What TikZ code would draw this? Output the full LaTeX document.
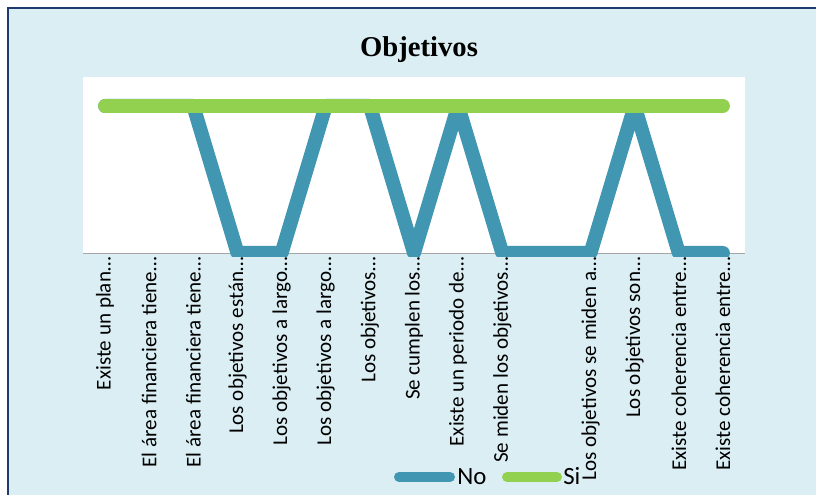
\documentclass[tikz,border=0pt]{standalone}
\usepackage{fontspec}
\setmainfont{Carlito}
\newfontfamily\titlefont{Liberation Serif}
\usepackage{xcolor}
\usepackage{tikz}

\definecolor{panelblue}{HTML}{DAEEF3}
\definecolor{framenavy}{HTML}{1F3A6E}
\definecolor{noblue}{HTML}{4197B1}
\definecolor{sigreen}{HTML}{92D050}
\definecolor{axisgray}{HTML}{A6A6A6}

\tikzset{
    catlabel/.style={rotate=90, anchor=east, inner sep=0pt, font=\fontsize{15.8}{17}\selectfont},
    series/.style={line width=10.5pt, line cap=round, line join=round},
    legline/.style={line width=7.5pt, line cap=round},
    legtext/.style={anchor=base west, inner sep=0pt, font=\fontsize{18.6}{20}\selectfont}
}

\begin{document}
\begin{tikzpicture}[x=0.75pt,y=0.75pt]
        \useasboundingbox (0,0) rectangle (816,495);
        \clip (0,0) rectangle (816,495);

        % Drawing the panel
        \fill[panelblue] (8,-20) rectangle (840,487);
        \draw[framenavy, line width=1.6pt] (8,-20) -- (8,487) -- (840,487);

        % Drawing the plot area
        \fill[white] (83,242) rectangle (745,418);
        \draw[axisgray, line width=1.2pt] (83,241.5) -- (745,241.5);

        % Title
        \node[font=\titlefont\bfseries\fontsize{21.5}{24}\selectfont, anchor=base] (title) at (419,438) {Objetivos};

        % Drawing the series
        \begin{scope}
            \clip (83,238) rectangle (745,418);
            \draw[series, noblue] (105.1,389) -- (149.2,389) -- (193.3,389) -- (237.5,242)
                -- (281.6,242) -- (325.7,389) -- (369.9,389) -- (414.0,242) -- (458.1,389)
                -- (502.3,242) -- (546.4,242) -- (590.5,242) -- (634.6,389) -- (678.8,242)
                -- (722.9,242);
            \draw[series, sigreen] (105.1,389) -- (722.9,389);
        \end{scope}

        % Category labels
        \node[catlabel] (c1) at (105.1,238) {Existe un plan…};
        \node[catlabel] (c2) at (149.2,238) {El área financiera tiene…};
        \node[catlabel] (c3) at (193.3,238) {El área financiera tiene…};
        \node[catlabel] (c4) at (237.5,238) {Los objetivos están…};
        \node[catlabel] (c5) at (281.6,238) {Los objetivos a largo…};
        \node[catlabel] (c6) at (325.7,238) {Los objetivos a largo…};
        \node[catlabel] (c7) at (369.9,238) {Los objetivos…};
        \node[catlabel] (c8) at (414.0,238) {Se cumplen los…};
        \node[catlabel] (c9) at (458.1,238) {Existe un periodo de…};
        \node[catlabel] (c10) at (502.3,238) {Se miden los objetivos…};
        \node[catlabel] (c12) at (590.5,238) {Los objetivos se miden a…};
        \node[catlabel] (c13) at (634.6,238) {Los objetivos son…};
        \node[catlabel] (c14) at (678.8,238) {Existe coherencia entre…};
        \node[catlabel] (c15) at (722.9,238) {Existe coherencia entre…};

        % Legend
        \draw[legline, noblue] (399,18) -- (450,18);
        \node[legtext] (legno) at (457,10) {No};
        \draw[legline, sigreen] (507,18) -- (557,18);
        \node[legtext] (legsi) at (563,10) {Si};
    \end{tikzpicture}
\end{document}
